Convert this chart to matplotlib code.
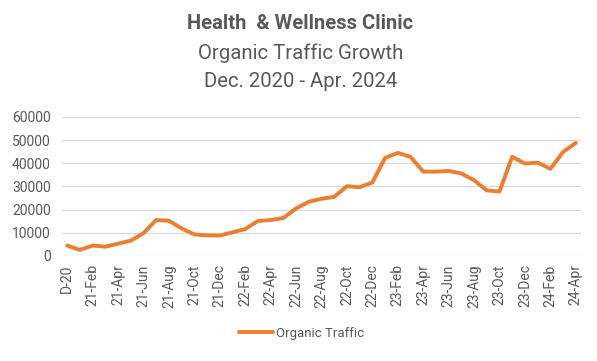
import matplotlib.pyplot as plt

plt.rcParams["font.family"] = ["Roboto", "DejaVu Sans"]

months = list(range(41))  # Dec 2020 .. Apr 2024, monthly
traffic = [
    4500, 2600, 4500, 4000, 5300, 6600, 9800, 15500, 15200, 11900,
    9300, 8900, 8800, 10200, 11600, 15100, 15500, 16400, 20500, 23400,
    24700, 25500, 30100, 29700, 31700, 42300, 44500, 42800, 36400, 36400,
    36700, 35600, 32700, 28300, 27800, 42800, 39900, 40300, 37600, 44900,
    48800,
]
tick_labels = [
    "D-20", "21-Feb", "21-Apr", "21-Jun", "21-Aug", "21-Oct", "21-Dec",
    "22-Feb", "22-Apr", "22-Jun", "22-Aug", "22-Oct", "22-Dec",
    "23-Feb", "23-Apr", "23-Jun", "23-Aug", "23-Oct", "23-Dec",
    "24-Feb", "24-Apr",
]

GREY = "#595959"
ORANGE = "#ED7D31"

fig = plt.figure(figsize=(5.97, 3.61), dpi=100)
ax = fig.add_axes([0.104, 0.291, 0.869, 0.385])

ax.plot(months, traffic, color=ORANGE, linewidth=2.8, label="Organic Traffic",
        solid_joinstyle="round", solid_capstyle="round")

ax.set_ylim(0, 60000)
ax.set_yticks(range(0, 60001, 10000))
ax.set_xlim(-0.4, 40.4)
ax.set_xticks(months[::2])
ax.set_xticklabels(tick_labels, rotation=90)
ax.tick_params(axis="both", length=0, colors=GREY, labelsize=10)
ax.tick_params(axis="x", pad=6)
ax.tick_params(axis="y", pad=8)

ax.grid(axis="y", color="#D9D9D9", linewidth=0.9)
ax.set_axisbelow(True)
for s in ax.spines.values():
    s.set_visible(False)

fig.text(0.503, 0.935, "Health  & Wellness Clinic", ha="center", va="center",
         fontsize=14.5, fontweight="bold", color=GREY)
fig.text(0.503, 0.853, "Organic Traffic Growth", ha="center", va="center",
         fontsize=14.7, color=GREY)
fig.text(0.503, 0.773, "Dec. 2020 - Apr. 2024", ha="center", va="center",
         fontsize=14.7, color=GREY)

fig.legend(loc="center", bbox_to_anchor=(0.505, 0.077), frameon=False,
           fontsize=9.5, labelcolor=GREY, handlelength=2.6, handletextpad=0.2)

fig.savefig("out.png", dpi=100, facecolor="white")
